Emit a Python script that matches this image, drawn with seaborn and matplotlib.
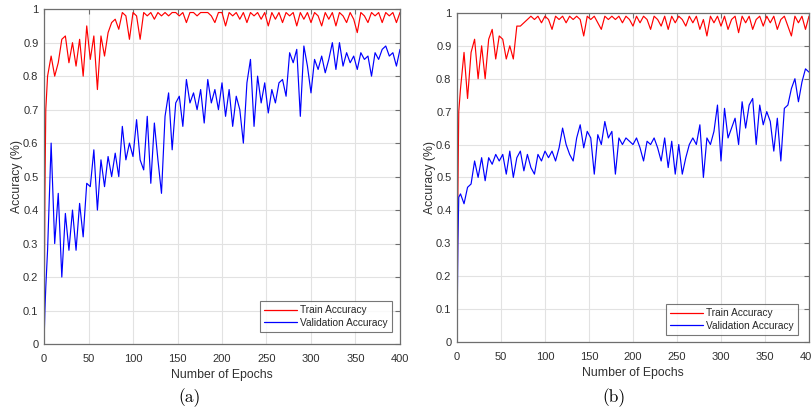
import numpy as np
import pandas as pd
import seaborn as sns
import matplotlib.pyplot as plt
from matplotlib.ticker import FixedLocator

# epochs sampled from the curves (early epochs denser)
epochs = [0, 1, 2] + list(range(4, 401, 4))

train_a = [0.00, 0.45, 0.70,
           0.80, 0.86, 0.80, 0.84, 0.91, 0.92, 0.84, 0.90, 0.83, 0.91,
           0.80, 0.95, 0.85, 0.92, 0.76, 0.92, 0.86, 0.93, 0.96, 0.97,
           0.94, 0.99, 0.98, 0.91, 0.99, 0.98, 0.91, 0.99, 0.98, 0.99,
           0.97, 0.99, 0.98, 0.99, 0.98, 0.99, 0.99, 0.98, 0.99, 0.96,
           0.99, 0.99, 0.98, 0.99, 0.99, 0.99, 0.98, 0.96, 0.99, 0.99,
           0.95, 0.99, 0.98, 0.99, 0.97, 0.99, 0.96, 0.99, 0.98, 0.99,
           0.97, 0.99, 0.95, 0.99, 0.97, 0.99, 0.96, 0.99, 0.98, 0.99,
           0.95, 0.99, 0.97, 0.99, 0.96, 0.99, 0.98, 0.95, 0.99, 0.97,
           0.99, 0.95, 0.99, 0.98, 0.96, 0.99, 0.97, 0.93, 0.99, 0.98,
           0.96, 0.99, 0.98, 0.99, 0.96, 0.99, 0.98, 0.99, 0.96, 0.99]

val_a = [0.00, 0.10, 0.17,
         0.28, 0.60, 0.30, 0.45, 0.20, 0.39, 0.28, 0.40, 0.28, 0.42,
         0.32, 0.48, 0.47, 0.58, 0.40, 0.55, 0.47, 0.56, 0.50, 0.57,
         0.50, 0.65, 0.55, 0.60, 0.56, 0.67, 0.55, 0.52, 0.68, 0.48,
         0.66, 0.55, 0.45, 0.68, 0.75, 0.58, 0.72, 0.74, 0.65, 0.79,
         0.72, 0.75, 0.70, 0.76, 0.66, 0.79, 0.72, 0.76, 0.70, 0.78,
         0.68, 0.76, 0.65, 0.74, 0.70, 0.60, 0.78, 0.85, 0.65, 0.80,
         0.72, 0.78, 0.69, 0.76, 0.72, 0.78, 0.79, 0.74, 0.87, 0.84,
         0.88, 0.68, 0.89, 0.83, 0.75, 0.85, 0.82, 0.86, 0.81, 0.85,
         0.90, 0.82, 0.90, 0.83, 0.87, 0.84, 0.86, 0.82, 0.87, 0.85,
         0.86, 0.80, 0.87, 0.85, 0.88, 0.89, 0.86, 0.87, 0.83, 0.88]

train_b = [0.00, 0.45, 0.70,
           0.77, 0.88, 0.74, 0.88, 0.92, 0.80, 0.90, 0.80, 0.92, 0.95,
           0.86, 0.93, 0.92, 0.86, 0.90, 0.86, 0.96, 0.96, 0.97, 0.98,
           0.99, 0.98, 0.99, 0.97, 0.99, 0.98, 0.95, 0.99, 0.98, 0.99,
           0.97, 0.99, 0.98, 0.99, 0.98, 0.93, 0.99, 0.98, 0.99, 0.97,
           0.95, 0.99, 0.98, 0.99, 0.98, 0.99, 0.97, 0.99, 0.98, 0.96,
           0.99, 0.97, 0.99, 0.98, 0.95, 0.99, 0.98, 0.96, 0.99, 0.95,
           0.99, 0.97, 0.99, 0.98, 0.96, 0.99, 0.97, 0.99, 0.95, 0.98,
           0.93, 0.99, 0.97, 0.99, 0.96, 0.99, 0.95, 0.98, 0.99, 0.94,
           0.99, 0.97, 0.99, 0.95, 0.98, 0.99, 0.96, 0.99, 0.97, 0.99,
           0.95, 0.98, 0.99, 0.96, 0.93, 0.99, 0.97, 0.99, 0.95, 0.99]

val_b = [0.00, 0.30, 0.44,
         0.45, 0.42, 0.47, 0.48, 0.55, 0.50, 0.56, 0.49, 0.56, 0.54,
         0.57, 0.55, 0.57, 0.51, 0.58, 0.50, 0.56, 0.58, 0.52, 0.57,
         0.53, 0.51, 0.57, 0.55, 0.58, 0.56, 0.58, 0.55, 0.59, 0.65,
         0.60, 0.57, 0.55, 0.62, 0.66, 0.59, 0.64, 0.62, 0.51, 0.63,
         0.60, 0.67, 0.62, 0.64, 0.51, 0.62, 0.60, 0.62, 0.61, 0.60,
         0.62, 0.59, 0.55, 0.61, 0.60, 0.62, 0.59, 0.55, 0.62, 0.53,
         0.61, 0.51, 0.60, 0.51, 0.56, 0.60, 0.62, 0.60, 0.66, 0.50,
         0.62, 0.60, 0.64, 0.72, 0.55, 0.71, 0.62, 0.65, 0.68, 0.60,
         0.73, 0.65, 0.72, 0.74, 0.60, 0.72, 0.66, 0.70, 0.67, 0.58,
         0.68, 0.55, 0.71, 0.72, 0.77, 0.80, 0.73, 0.79, 0.83, 0.82]

series_names = ['Train Accuracy', 'Validation Accuracy']
palette = {'Train Accuracy': '#ff0000', 'Validation Accuracy': '#0000ff'}
yticks = [i / 10 for i in range(11)]
ytick_labels = ['0', '0.1', '0.2', '0.3', '0.4', '0.5', '0.6', '0.7', '0.8', '0.9', '1']
xticks = list(range(0, 401, 50))


def long_frame(train, val):
    return pd.DataFrame({
        'epoch': epochs * 2,
        'acc': train + val,
        'series': [series_names[0]] * len(epochs) + [series_names[1]] * len(epochs),
    })


sns.set_theme(style='whitegrid')
plt.rcParams['font.family'] = ['Liberation Sans', 'DejaVu Sans']

fig = plt.figure(figsize=(8.12, 4.17), dpi=100)
ax_a = fig.add_axes([0.0542, 0.175, 0.4384, 0.803])
ax_b = fig.add_axes([0.5628, 0.180, 0.4335, 0.789])

panels = [(ax_a, train_a, val_a, (0.978, 0.036), '(a)', 190),
          (ax_b, train_b, val_b, (0.969, 0.021), '(b)', 614)]

for ax, tr, va, leg_anchor, caption, cap_x in panels:
    df = long_frame(tr, va)
    sns.lineplot(data=df, x='epoch', y='acc', hue='series', palette=palette,
                 estimator=None, linewidth=0.85, ax=ax)
    ax.set_facecolor('white')
    ax.set_xlim(0, 400)
    ax.set_ylim(0, 1)
    ax.xaxis.set_major_locator(FixedLocator(xticks))
    ax.set_yticks(yticks)
    ax.set_yticklabels(ytick_labels)
    ax.grid(True, color='#e2e2e2', linewidth=0.8)
    for s in ax.spines.values():
        s.set_color('#6e6e6e')
        s.set_linewidth(0.9)
    ax.tick_params(direction='in', length=3.5, width=0.8, color='#6e6e6e',
                   top=True, right=True, labelsize=8, labelcolor='#303030')
    ax.tick_params(axis='x', pad=7)
    ax.tick_params(axis='y', pad=4)
    ax.set_xlabel('Number of Epochs', fontsize=8.8, color='#303030', labelpad=4)
    ax.set_ylabel('Accuracy (%)', fontsize=8.8, color='#303030', labelpad=0)
    leg = ax.legend(loc='lower right', bbox_to_anchor=leg_anchor, borderaxespad=0,
                    fontsize=7.3, frameon=True, fancybox=False, handlelength=3.3,
                    handletextpad=0.3, borderpad=0.4, labelspacing=0.25, title=None)
    leg.get_frame().set_edgecolor('#555555')
    leg.get_frame().set_linewidth(0.8)
    for line in leg.get_lines():
        line.set_linewidth(0.9)
    fig.text(cap_x / 812, 1 - 398 / 417, caption, ha='center', va='center',
             fontsize=12.5, family='cmr10', color='black')

fig.savefig('out.png', dpi=100)
